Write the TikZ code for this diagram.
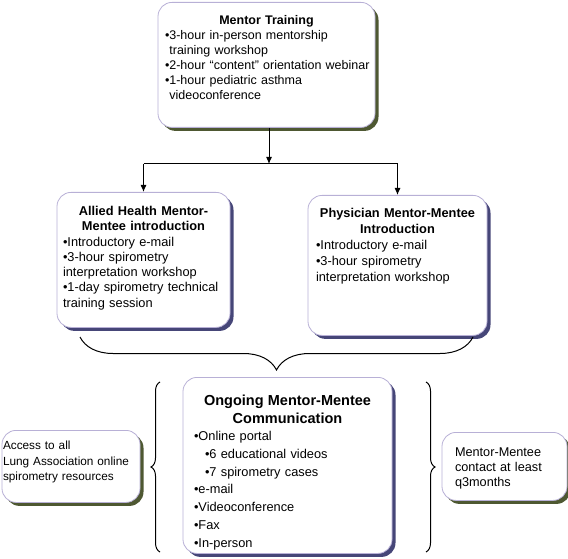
\documentclass[tikz,border=0pt]{standalone}
\usepackage{fontspec}
\setmainfont{Liberation Sans}
\usetikzlibrary{shadows,decorations.pathreplacing,arrows.meta}

\definecolor{boxline}{RGB}{184,176,214}
\definecolor{greenshade}{RGB}{78,88,50}
\definecolor{blueshade}{RGB}{70,70,120}

\newcommand{\heading}[1]{\makebox[\linewidth]{\bfseries #1}}

\begin{document}
\begin{tikzpicture}[x=1pt, y=-1pt, thick,
    every node/.style={align=left, inner ysep=0pt},
    box/.style={draw=boxline, fill=white, rounded corners=14pt, anchor=north, line width=0.8pt},
    greenbox/.style={box, drop shadow={shadow xshift=3.5pt, shadow yshift=-3.5pt, opacity=1, fill=greenshade}},
    bluebox/.style={box, drop shadow={shadow xshift=3.5pt, shadow yshift=-3.5pt, opacity=1, fill=blueshade}},
    arr/.style={-{Latex[length=7pt,width=6pt]}, line width=1pt},
    brc/.style={decorate, line width=1pt}]

    \useasboundingbox (0,0) rectangle (568,559);

    % Nodes
    \node[greenbox, text width=203pt, inner xsep=7pt, text height=22pt, text depth=103pt,
          font=\fontsize{12.5}{15}\selectfont] (mentor) at (266.5,2)
        {\heading{Mentor Training}\\
         •3-hour in-person mentorship\\
         \hspace*{4.4pt}training workshop\\
         \mbox{•2-hour “content” orientation webinar}\\
         •1-hour pediatric asthma\\
         \hspace*{4.4pt}videoconference};

    \node[bluebox, text width=161pt, inner xsep=6pt, text height=23pt, text depth=112pt,
          font=\fontsize{12.8}{15.3}\selectfont] (allied) at (143.5,192)
        {\heading{Allied Health Mentor-}\\
         \heading{Mentee introduction}\\
         •Introductory e-mail\\
         •3-hour spirometry\\
         interpretation workshop\\
         \mbox{•1-day spirometry technical}\\
         training session};

    \node[bluebox, text width=163pt, inner xsep=8pt, text height=22.5pt, text depth=117.5pt,
          font=\fontsize{12.8}{15.8}\selectfont] (phys) at (397.5,195)
        {\heading{Physician Mentor-Mentee}\\
         \heading{Introduction}\\
         •Introductory e-mail\\
         •3-hour spirometry\\
         interpretation workshop};

    \node[bluebox, text width=187pt, inner xsep=11pt, text height=28pt, text depth=148pt,
          font=\fontsize{12.8}{17.7}\selectfont] (ongoing) at (287.5,377)
        {{\fontsize{14.5}{17.7}\selectfont\heading{Ongoing Mentor-Mentee}}\\
         {\fontsize{14.5}{17.7}\selectfont\heading{Communication}}\\
         •Online portal\\
         \hspace*{11pt}•6 educational videos\\
         \hspace*{11pt}•7 spirometry cases\\
         •e-mail\\
         •Videoconference\\
         •Fax\\
         •In-person};

    \node[greenbox, text width=136pt, inner xsep=1pt, text height=19.5pt, text depth=52.5pt,
          font=\fontsize{11.8}{15.5}\selectfont] (access) at (71,430)
        {Access to all\\
         \mbox{Lung Association online}\\
         spirometry resources};

    \node[greenbox, text width=99pt, inner xsep=13pt, text height=24pt, text depth=44pt,
          font=\fontsize{12.7}{15}\selectfont] (contact) at (504.5,432)
        {Mentor-Mentee\\
         contact at least\\
         q3months};

    % Edges
    \coordinate (jn) at (269,164);
    \draw[arr] (mentor.south -| jn) -- (jn);
    \draw[line width=1pt] (allied.north |- jn) -- (phys.north |- jn);
    \draw[arr] (allied.north |- jn) -- (allied.north);
    \draw[arr] (phys.north |- jn) -- (phys.north);

    % Braces
    \draw[brc, decoration={brace, amplitude=33pt}] (473,337) -- (80,337);
    \draw[brc, decoration={brace, amplitude=9pt}] (160,552) -- (160,382);
    \draw[brc, decoration={brace, amplitude=9pt}] (426,382) -- (426,552);

\end{tikzpicture}
\end{document}
